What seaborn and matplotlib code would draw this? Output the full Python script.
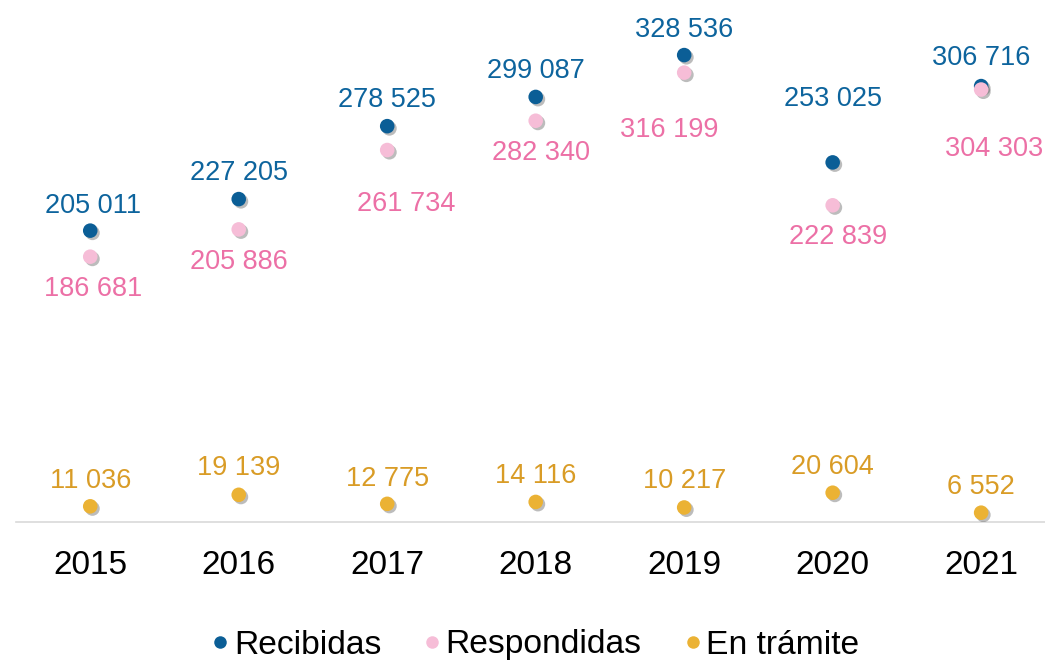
import pandas as pd
import numpy as np
import matplotlib.pyplot as plt
import matplotlib.patheffects as pe
from matplotlib.lines import Line2D
import seaborn as sns

years = ['2015', '2016', '2017', '2018', '2019', '2020', '2021']
recibidas = [205011, 227205, 278525, 299087, 328536, 253025, 306716]
respondidas = [186681, 205886, 261734, 282340, 316199, 222839, 304303]
en_tramite = [11036, 19139, 12775, 14116, 10217, 20604, 6552]

series_names = ['Recibidas', 'Respondidas', 'En trámite']
dot_colors = ['#0b5e96', '#f6bdd7', '#ebb234']
text_colors = ['#0d649d', '#ec70a6', '#d99c26']

# label offsets in points (dx, dy) per year
off_rec = [(2, 18), (0, 19), (0, 19), (0, 19), (0, 18), (0, 46), (0, 20)]
off_res = [(2, -23.5), (0, -23.5), (14, -38.5), (4, -23), (-11, -41), (4, -23), (9, -43)]
off_tra = [(0, 18.5), (0, 19), (0, 18), (0, 18.5), (0, 19), (0, 18.5), (0, 18.5)]


def fmt(v):
    return f'{v:,}'.replace(',', ' ')


df = pd.DataFrame({
    'year': years * 3,
    'valor': recibidas + respondidas + en_tramite,
    'serie': np.repeat(series_names, len(years)),
})
df['x'] = np.tile(np.arange(len(years)), 3)

sns.set_theme(style='white')
plt.rcParams['font.family'] = ['Liberation Sans', 'DejaVu Sans']

fig = plt.figure(figsize=(10.45, 6.61), dpi=100)
ax = fig.add_axes([16 / 1045, 139 / 661, 1029 / 1045, 522 / 661])

shadow = [pe.SimplePatchShadow(offset=(1.6, -1.6), shadow_rgbFace='#404040', alpha=0.35),
          pe.Normal()]
for name, col in zip(series_names, dot_colors):
    sub = df[df['serie'] == name]
    sns.scatterplot(data=sub, x='x', y='valor', color=col, s=110,
                    linewidth=0, ax=ax, zorder=3, legend=False)
    ax.collections[-1].set_path_effects(shadow)

for vals, offs, col in zip([recibidas, respondidas, en_tramite],
                           [off_rec, off_res, off_tra], text_colors):
    for i, (v, o) in enumerate(zip(vals, offs)):
        ax.annotate(fmt(v), (i, v), xytext=o, textcoords='offset points',
                    ha='center', va='center', fontsize=19.5, color=col)

ax.set_xlim(-0.5, 6.43)
ax.set_ylim(0, 367300)
ax.set_xticks(range(len(years)))
ax.set_xticklabels(years, fontsize=24, color='black')
ax.tick_params(axis='x', length=0, pad=20)
ax.set_yticks([])
ax.set_xlabel('')
ax.set_ylabel('')
for side in ['top', 'right', 'left']:
    ax.spines[side].set_visible(False)
ax.spines['bottom'].set_color('#d9d9d9')
ax.spines['bottom'].set_linewidth(1.2)

handles = [Line2D([], [], marker='o', linestyle='', markersize=9,
                  markerfacecolor=c, markeredgewidth=0) for c in dot_colors]
leg = fig.legend(handles, series_names, loc='center',
                 bbox_to_anchor=(534 / 1045, 1 - 645 / 661),
                 ncol=3, frameon=False, fontsize=24.2, handletextpad=0.05,
                 columnspacing=1.17, handlelength=0.7)
for t in leg.get_texts():
    t.set_color('black')

fig.savefig('out.png', dpi=100)
